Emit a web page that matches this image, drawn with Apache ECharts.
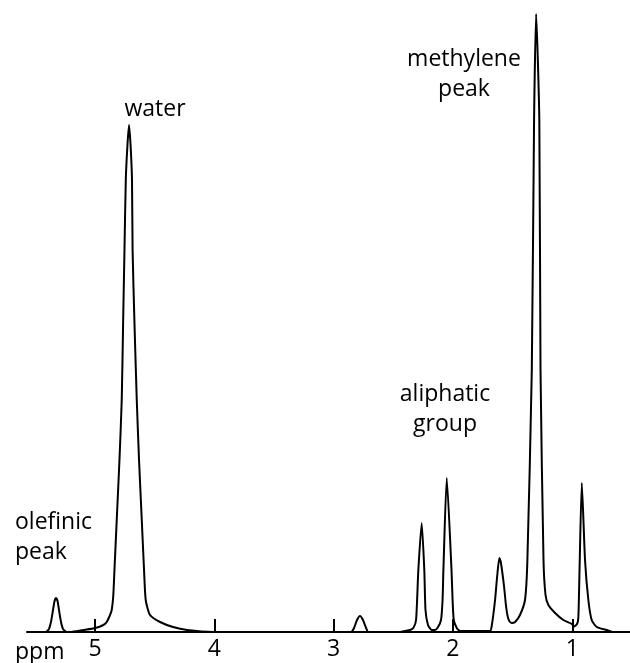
<!DOCTYPE html>
<html>
<head>
<meta charset="utf-8">
<script src="https://cdn.jsdelivr.net/npm/echarts@6/dist/echarts.min.js"></script>
<style>
html,body{margin:0;padding:0;background:#fff;}
#chart{width:630px;height:663px;}
</style>
</head>
<body>
<div id="chart"></div>
<script>
// Chemical shift (ppm) and signal intensity
const shiftPpm = [
  5.570, 5.413, 5.386, 5.369, 5.352, 5.339, 5.327, 5.314, 5.302, 5.285, 5.268, 5.237, 5.210,
  5.098, 4.997, 4.930, 4.902, 4.874, 4.860, 4.847, 4.837, 4.816, 4.795, 4.776, 4.764, 4.753, 4.742, 4.728, 4.715,
  4.702, 4.690, 4.685, 4.670, 4.650, 4.631, 4.610, 4.589, 4.575, 4.539, 4.455, 4.346, 4.229, 4.011,
  3.500, 2.854, 2.829, 2.804, 2.779, 2.754, 2.728, 2.709,
  2.443, 2.402, 2.360, 2.332, 2.309, 2.290, 2.262, 2.240, 2.230, 2.209, 2.178, 2.150, 2.125, 2.100,
  2.087, 2.080, 2.052, 2.012, 2.003, 1.993, 1.968, 1.940, 1.857, 1.773, 1.689,
  1.675, 1.647, 1.630, 1.611, 1.599, 1.572, 1.555, 1.542, 1.528, 1.507, 1.479, 1.438, 1.396, 1.376,
  1.339, 1.320, 1.303, 1.276, 1.266, 1.241, 1.224, 1.200, 1.144, 1.075, 1.004, 0.985, 0.960, 0.949,
  0.939, 0.920, 0.893, 0.865, 0.837, 0.795, 0.711, 0.666
];
const intensity = [
  0, 0, 3, 10, 22, 31, 34, 31, 22, 10, 3, 0, 0,
  2, 4, 7, 10, 17, 22, 36, 62, 117, 172, 232, 312, 382, 452, 487, 507,
  487, 452, 382, 312, 232, 172, 117, 62, 32, 17, 10, 5, 2, 0,
  0, 0, 4, 12, 16, 12, 4, 0,
  0, 1, 2, 4, 12, 62, 109, 62, 22, 7, 2, 2, 5, 12,
  32, 62, 154, 62, 32, 12, 4, 1, 1, 1, 1,
  6, 32, 55, 74, 70, 46, 26, 16, 11, 9, 10, 17, 32, 72,
  262, 512, 618, 512, 262, 72, 37, 27, 19, 12, 8, 5.5, 8, 14,
  62, 149, 72, 32, 12, 5, 2, 0
];
const tickValues = [5, 4, 3, 2, 1];
const axisTitle = 'ppm';
const annotations = [
  {lines: ['water'], x: 155, y: 109, align: 'center'},
  {lines: ['methylene', 'peak'], x: 464, y: 59, align: 'center'},
  {lines: ['aliphatic', 'group'], x: 445, y: 394, align: 'center'},
  {lines: ['olefinic', 'peak'], x: 15, y: 522, align: 'left'}
];

const FONT = '23px "Open Sans"';
const LINE_GAP = 30;

const chart = echarts.init(document.getElementById('chart'), null, {renderer: 'canvas'});
const graphics = [];
annotations.forEach(a => {
  a.lines.forEach((t, i) => {
    graphics.push({
      type: 'text',
      style: {
        text: t, x: a.x, y: a.y + i * LINE_GAP, fill: '#000', font: FONT,
        align: a.align, verticalAlign: 'middle',
        textAlign: a.align, textVerticalAlign: 'middle'
      }
    });
  });
});
graphics.push({
  type: 'text',
  style: {text: axisTitle, x: 15, y: 652, fill: '#000', font: FONT,
    align: 'left', verticalAlign: 'middle', textAlign: 'left', textVerticalAlign: 'middle'}
});

chart.setOption({
  animation: false,
  backgroundColor: '#fff',
  grid: {left: 27, right: 0, top: 0, bottom: 31, containLabel: false},
  xAxis: {
    type: 'value',
    inverse: true,
    min: 0.516,
    max: 5.57,
    axisLine: {show: true, lineStyle: {color: '#000', width: 2}},
    axisTick: {show: true, inside: true, length: 13, customValues: tickValues,
      lineStyle: {color: '#000', width: 2}},
    axisLabel: {show: true, customValues: tickValues, color: '#000',
      fontFamily: 'Open Sans', fontSize: 23, margin: 6,
      formatter: v => String(v)},
    splitLine: {show: false}
  },
  yAxis: {
    type: 'value', min: 0, max: 632, show: false, splitLine: {show: false}
  },
  series: [{
    type: 'line',
    data: shiftPpm.map((p, i) => [p, intensity[i]]),
    showSymbol: false,
    smooth: 0.2,
    lineStyle: {color: '#000', width: 2},
    clip: false
  }],
  graphic: graphics
});
</script>
</body>
</html>
